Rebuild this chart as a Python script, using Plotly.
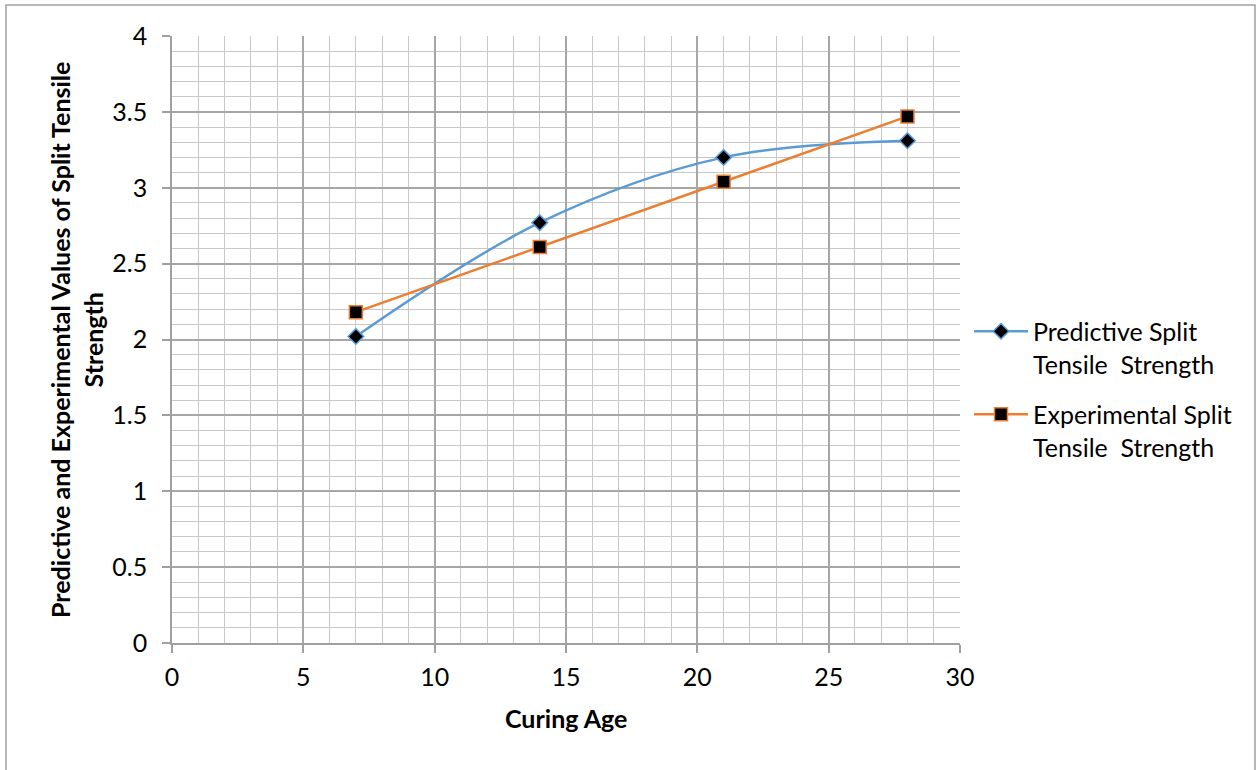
import plotly.graph_objects as go

curing_age = [7, 14, 21, 28]
predictive = [2.02, 2.77, 3.20, 3.31]
experimental = [2.18, 2.61, 3.04, 3.47]
x_ticks = [0, 5, 10, 15, 20, 25, 30]
y_ticks = [0, 0.5, 1, 1.5, 2, 2.5, 3, 3.5, 4]

FONT = "Lato, 'Open Sans', sans-serif"
FS = 25

fig = go.Figure()
fig.add_trace(go.Scatter(
    x=curing_age, y=predictive, mode="lines+markers",
    name="Predictive Split<br>Tensile  Strength", legendgroup="p",
    line=dict(color="#5B9BD5", width=2.5, shape="spline", smoothing=1.0),
    marker=dict(symbol="diamond", size=12, color="black",
                line=dict(color="#5B9BD5", width=1.5)),
))
fig.add_trace(go.Scatter(
    x=curing_age, y=experimental, mode="lines+markers",
    name="Experimental Split<br>Tensile  Strength", legendgroup="e",
    line=dict(color="#ED7D31", width=2.5),
    marker=dict(symbol="square", size=13, color="black",
                line=dict(color="#ED7D31", width=1.5)),
))

axis_common = dict(
    showline=True, linecolor="#a0a0a0", linewidth=1.5,
    showgrid=True, gridcolor="#a6a6a6", gridwidth=1.5,
    ticks="outside", ticklen=8, tickcolor="#a0a0a0", tickwidth=1.5,
    zeroline=False,
    tickfont=dict(family=FONT, size=FS, color="black"),
)

fig.update_xaxes(range=[0, 30], tickvals=x_ticks, ticklabelstandoff=3,
                 minor=dict(dtick=1, showgrid=True, gridcolor="#c8c8c8", gridwidth=1),
                 **axis_common)
fig.update_yaxes(range=[0, 4], tickvals=y_ticks, ticklabelstandoff=10,
                 minor=dict(dtick=0.1, showgrid=True, gridcolor="#c8c8c8", gridwidth=1),
                 **axis_common)

fig.add_annotation(text="<b>Curing Age</b>", xref="paper", yref="paper",
                   x=0.5, y=(643-718)/607, showarrow=False, yanchor="middle",
                   font=dict(family=FONT, size=FS, color="black"))
fig.add_annotation(text="<b>Predictive and Experimental Values of Split Tensile<br>Strength</b>",
                   xref="paper", yref="paper", x=(76-172)/788, y=(643-340)/607, textangle=-90,
                   showarrow=False, xanchor="center", yanchor="middle",
                   font=dict(family=FONT, size=FS, color="black"))

fig.add_shape(type="rect", xref="paper", yref="paper",
              x0=(6-172)/788, x1=(1255-172)/788, y0=(643-790)/607, y1=(643-5)/607,
              line=dict(color="#a0a0a0", width=1.5), fillcolor="rgba(0,0,0,0)", layer="below")

fig.update_layout(
    width=1258, height=770,
    margin=dict(l=172, r=298, t=36, b=127),
    paper_bgcolor="white", plot_bgcolor="white",
    legend=dict(x=(969-172)/788, y=(643-389)/607, xanchor="left", yanchor="middle",
                font=dict(family=FONT, size=FS, color="black"), valign="top",
                itemwidth=54, tracegroupgap=15, bgcolor="rgba(0,0,0,0)"),
    showlegend=True,
)

fig.write_html("out.html")
